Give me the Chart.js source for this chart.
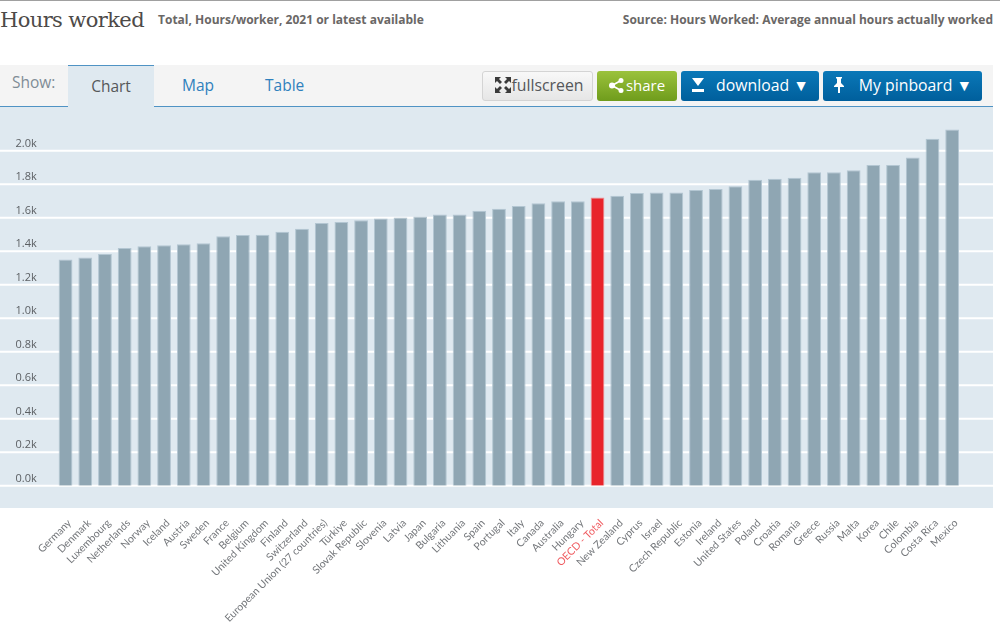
<!DOCTYPE html>
<html><head><meta charset="utf-8">
<script src="https://cdn.jsdelivr.net/npm/chart.js@4"></script>
<style>
html,body{margin:0;padding:0;background:#fff;width:1000px;height:626px;overflow:hidden}
body{position:relative;font-family:"Open Sans",sans-serif}
.abs{position:absolute;white-space:nowrap}
#topline{left:0;top:0;width:1000px;height:1px;background:#a0a0a0}
#title{left:0;top:6px;font:21px/28px "DejaVu Serif",serif;color:#4d4a48;letter-spacing:-.6px}
#sub{left:158px;top:11px;font:bold 12px/17px "Open Sans",sans-serif;color:#6a6766;letter-spacing:0}
#src{right:7px;top:11px;font:bold 12px/17px "Open Sans",sans-serif;color:#6a6766}
#bar{left:0;top:65px;width:993px;height:41px;background:#f4f4f4;border-bottom:1px solid #4f93c4}
#panel{left:0;top:107px;width:993px;height:401px;background:#dfe9f0}
#show{left:12px;top:71px;font:15.5px/22px "Open Sans",sans-serif;color:#7f8c96}
#tab{left:68px;top:65px;width:86px;height:42px;background:#dfe9f0;border-top:1px solid #4f93c4;box-sizing:border-box;text-align:center;font:15.5px/40px "Open Sans",sans-serif;color:#55575a}
.lnk{top:65px;font:15.5px/41px "Open Sans",sans-serif;color:#2f80bd}
.btn{top:71px;height:30px;box-sizing:border-box;border-radius:3px;font:15.8px/26px "Open Sans",sans-serif;display:flex;align-items:center;justify-content:center;gap:5px;padding-bottom:2px}
#fs{left:482px;width:111px;background:linear-gradient(#f8f8f8,#e6e6e6);border:1px solid #d4d4d4;color:#55575a;padding-left:2px}
#sh{left:597px;width:80px;background:linear-gradient(#9bc23c,#6f9c1c);color:#fff;font-size:15px}
#dl{left:681px;width:138px;background:linear-gradient(#0a78b8,#005f9c);color:#fff}
#pb{left:823px;width:159px;background:linear-gradient(#0a78b8,#005f9c);color:#fff}
#cv{position:absolute;left:0;top:0}
</style></head><body>
<div class="abs" id="topline"></div>
<div class="abs" id="title">Hours worked</div>
<div class="abs" id="sub">Total, Hours/worker, 2021 or latest available</div>
<div class="abs" id="src">Source: Hours Worked: Average annual hours actually worked</div>
<div class="abs" id="bar"></div>
<div class="abs" id="panel"></div>
<div class="abs" id="show">Show:</div>
<div class="abs" id="tab">Chart</div>
<div class="abs lnk" style="left:182px">Map</div>
<div class="abs lnk" style="left:265px">Table</div>
<div class="abs btn" id="fs"><svg width="18" height="18" viewBox="0 0 18 18" fill="#3a3a3a"><path d="M1 1h6L5 3l3 3-2 2-3-3-2 2zM17 1v6l-2-2-3 3-2-2 3-3-2-2zM1 17v-6l2 2 3-3 2 2-3 3 2 2zM17 17h-6l2-2-3-3 2-2 3 3 2-2z"/></svg><span style="margin-left:-5px">fullscreen</span></div>
<div class="abs btn" id="sh"><svg width="15" height="15" viewBox="0 0 15 15" fill="#fff"><circle cx="3" cy="7.5" r="3"/><circle cx="12" cy="2.5" r="2.5"/><circle cx="12" cy="12.5" r="2.5"/><path d="M3 7.5L12 2.5M3 7.5L12 12.5" stroke="#fff" stroke-width="1.6"/></svg><span style="margin-left:-3px">share</span></div>
<div class="abs btn" id="dl"><svg width="14" height="14" viewBox="0 0 14 14" fill="#fff" style="margin-right:6px"><path d="M1 0h12L7 8zM1 11h12v3H1z"/></svg>download&nbsp;▼</div>
<div class="abs btn" id="pb"><svg width="12" height="16" viewBox="0 0 12 16" fill="#fff" style="margin-right:9px"><path d="M3 0h6v1L8 2v4l3 3v1H7v6H5v-6H1V9l3-3V2L3 1z"/></svg>My pinboard&nbsp;▼</div>
<canvas id="cv" width="1000" height="626"></canvas>
<script>
const categories=["Germany","Denmark","Luxembourg","Netherlands","Norway","Iceland","Austria","Sweden","France","Belgium","United Kingdom","Finland","Switzerland","European Union (27 countries)","Türkiye","Slovak Republic","Slovenia","Latvia","Japan","Bulgaria","Lithuania","Spain","Portugal","Italy","Canada","Australia","Hungary","OECD - Total","New Zealand","Cyprus","Israel","Czech Republic","Estonia","Ireland","United States","Poland","Croatia","Romania","Greece","Russia","Malta","Korea","Chile","Colombia","Costa Rica","Mexico"];
const hoursWorked=[1350,1363,1384,1419,1430,1435,1441,1447,1490,1497,1498,1517,1534,1569,1575,1585,1596,1602,1608,1620,1620,1642,1654,1670,1686,1698,1698,1720,1731,1747,1751,1750,1766,1772,1788,1826,1832,1838,1872,1872,1884,1915,1915,1959,2071,2126];
const highlight="OECD - Total";
const yTicks=[0,200,400,600,800,1000,1200,1400,1600,1800,2000];

const fullGrid={id:"fullGrid",beforeDatasetsDraw(c){
  const y=c.scales.y,x=c.ctx;x.save();x.strokeStyle="#fff";x.lineWidth=2;
  y.ticks.forEach(t=>{const p=y.getPixelForValue(t.value);x.beginPath();x.moveTo(0,p);x.lineTo(993,p);x.stroke();});
  x.restore();}};

new Chart(document.getElementById("cv"),{
  type:"bar",
  data:{labels:categories,datasets:[{data:hoursWorked,
    backgroundColor:categories.map(n=>n===highlight?"#e8242b":"#8fa6b3"),
    borderColor:categories.map(n=>n===highlight?"#ef8f92":"#b3c6d2"),
    borderWidth:{top:1,left:1,right:1,bottom:0},
    barPercentage:.7,categoryPercentage:1}]},
  plugins:[fullGrid],
  options:{responsive:false,animation:false,devicePixelRatio:1,
    layout:{padding:{left:0,right:38,top:117.2,bottom:0}},
    plugins:{legend:{display:false},tooltip:{enabled:false}},
    scales:{
      x:{offset:true,grid:{display:false},border:{display:false},
        afterFit(s){s.height=140.2;},
        ticks:{autoSkip:false,minRotation:45,maxRotation:45,padding:23,labelOffset:4,
          font:{family:"Lato",size:10.5},
          color:categories.map(n=>n===highlight?"#ef5a5f":"#74777b")}},
      y:{min:0,max:2200,grid:{display:false},border:{display:false},
        afterFit(s){s.width=55.7;},
        afterBuildTicks(s){s.ticks=yTicks.map(v=>({value:v}));},
        ticks:{padding:11,labelOffset:-7,font:{family:"Open Sans",size:11},color:"#5b5f63",
          callback:v=>(v/1000).toFixed(1)+"k"}}
    }}
});
</script></body></html>
